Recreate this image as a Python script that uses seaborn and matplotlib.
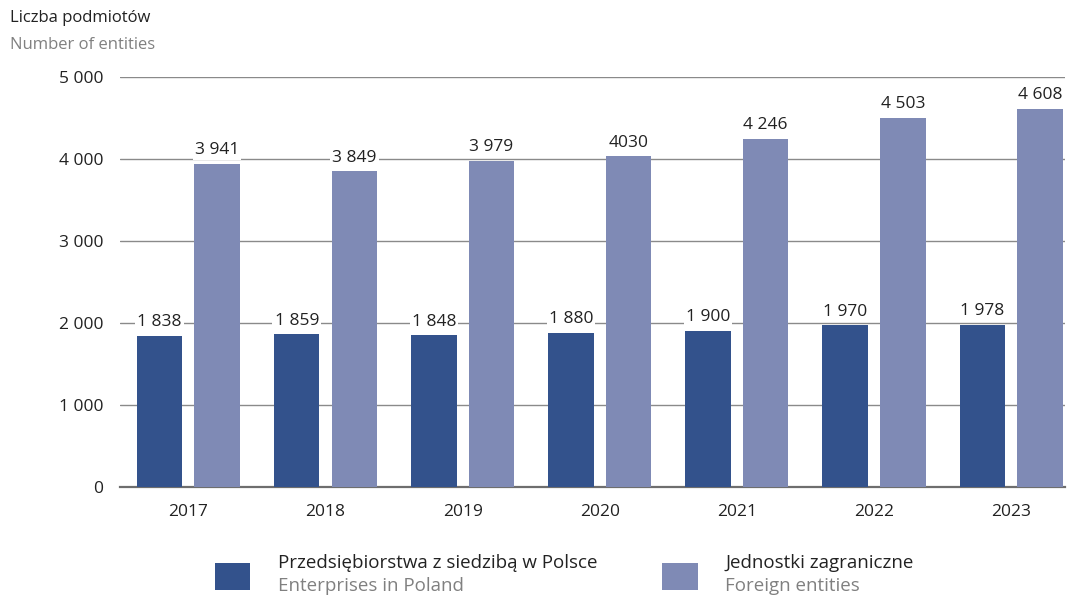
import matplotlib.pyplot as plt
import matplotlib.patches as mpatches
import pandas as pd
import seaborn as sns

# data
years = ["2017", "2018", "2019", "2020", "2021", "2022", "2023"]
poland = [1838, 1859, 1848, 1880, 1900, 1970, 1978]
foreign = [3941, 3849, 3979, 4030, 4246, 4503, 4608]
poland_labels = ["1 838", "1 859", "1 848", "1 880", "1 900", "1 970", "1 978"]
foreign_labels = ["3 941", "3 849", "3 979", "4030", "4 246", "4 503", "4 608"]
yticks = [0, 1000, 2000, 3000, 4000, 5000]
ytick_labels = ["0", "1 000", "2 000", "3 000", "4 000", "5 000"]

series_pl = "Przedsiębiorstwa z siedzibą w Polsce"
series_en = "Jednostki zagraniczne"
colors = {series_pl: "#33528c", series_en: "#7f8ab5"}

df = pd.DataFrame({
    "year": years * 2,
    "value": poland + foreign,
    "series": [series_pl] * len(years) + [series_en] * len(years),
    "label": poland_labels + foreign_labels,
})

sns.set_style("white")
plt.rcParams["font.family"] = ["Open Sans", "DejaVu Sans"]

fig = plt.figure(figsize=(10.7, 5.96), dpi=100)
ax = fig.add_axes([0.112, 0.183, 0.883, 0.688])

sns.barplot(data=df, x="year", y="value", hue="series", palette=colors,
            width=0.84, gap=0.21, saturation=1, linewidth=0,
            legend=False, ax=ax, zorder=3)

ax.set_ylim(0, 5000)
ax.set_xlim(-0.5, 6.39)
ax.set_yticks(yticks)
ax.set_yticklabels(ytick_labels)
ax.yaxis.grid(True, color="#8a8a8a", linewidth=1.0, zorder=0)
ax.set_axisbelow(True)
for s in ["top", "right", "left"]:
    ax.spines[s].set_visible(False)
ax.spines["bottom"].set_color("#6e6e6e")
ax.spines["bottom"].set_linewidth(1.6)
ax.tick_params(axis="both", length=0, labelsize=12.5, colors="#222222")
ax.tick_params(axis="y", pad=12)
ax.tick_params(axis="x", pad=12)
ax.set_xlabel("")
ax.set_ylabel("")

# value labels
for cont, labels in zip(ax.containers, [poland_labels, foreign_labels]):
    for bar, lab in zip(cont, labels):
        ax.text(bar.get_x() + bar.get_width() / 2, bar.get_height() + 70, lab,
                ha="center", va="bottom", fontsize=12.5, color="#222222",
                bbox=dict(facecolor="white", edgecolor="none", pad=1.5), zorder=4)

# axis title
fig.text(0.009, 0.97, "Liczba podmiotów", fontsize=12, color="#222222", va="center")
fig.text(0.009, 0.925, "Number of entities", fontsize=12, color="#808080", va="center")

# legend
fs_leg = 13.5
fig.patches.append(mpatches.Rectangle((0.201, 0.01), 0.033, 0.045, transform=fig.transFigure,
                                      facecolor=colors[series_pl], edgecolor="none"))
fig.text(0.26, 0.056, series_pl, fontsize=fs_leg, color="#222222", va="center")
fig.text(0.26, 0.016, "Enterprises in Poland", fontsize=fs_leg, color="#808080", va="center")
fig.patches.append(mpatches.Rectangle((0.619, 0.01), 0.033, 0.045, transform=fig.transFigure,
                                      facecolor=colors[series_en], edgecolor="none"))
fig.text(0.678, 0.056, series_en, fontsize=fs_leg, color="#222222", va="center")
fig.text(0.678, 0.016, "Foreign entities", fontsize=fs_leg, color="#808080", va="center")

fig.savefig("out.png", dpi=100)
